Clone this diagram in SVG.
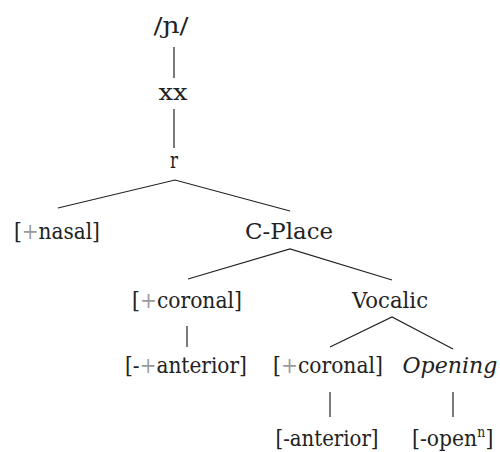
<svg xmlns="http://www.w3.org/2000/svg" width="500" height="452" viewBox="0 0 500 452">
<style>
text{font-family:"DejaVu Serif","Liberation Serif",serif;font-size:23px;fill:#222;text-anchor:middle}
.s text,text.s{text-anchor:start}
.p{fill:#9a9a9a}
.it{font-style:italic}
.e{stroke:#222;stroke-width:1.2;fill:none}
</style>
<rect width="500" height="452" fill="#fff"/>
<g id="connectors" class="e">
<line x1="174" y1="47" x2="174" y2="78"/>
<line x1="174" y1="109" x2="174" y2="148"/>
<path d="M58 208 L175 180 L290 211"/>
<path d="M188 279 L290 249 L392 280"/>
<line x1="187" y1="326" x2="187" y2="347"/>
<path d="M330 347 L392 317 L453 349"/>
<line x1="330" y1="392" x2="330" y2="417"/>
<line x1="453" y1="392" x2="453" y2="417"/>
</g>
<g id="n-phoneme"><text x="171" y="33" textLength="35" lengthAdjust="spacingAndGlyphs">/ɲ/</text></g>
<g id="n-xx"><text x="173" y="100" textLength="29" lengthAdjust="spacingAndGlyphs">xx</text></g>
<g id="n-r"><text x="174" y="168" textLength="8" lengthAdjust="spacingAndGlyphs">r</text></g>
<g id="n-nasal" class="s" transform="translate(14,239) scale(0.872,1)"><text x="0" y="0">[</text><text class="p" x="8.97" y="0">+</text><text x="28.24" y="0">nasal]</text></g>
<g id="n-cplace"><text x="289" y="239" textLength="88" lengthAdjust="spacingAndGlyphs">C-Place</text></g>
<g id="n-coronal1" class="s" transform="translate(132,308) scale(0.882,1)"><text x="0" y="0">[</text><text class="p" x="8.97" y="0">+</text><text x="28.24" y="0">coronal]</text></g>
<g id="n-vocalic"><text x="390" y="308" textLength="76" lengthAdjust="spacingAndGlyphs">Vocalic</text></g>
<g id="n-anterior1" class="s" transform="translate(125,373) scale(0.874,1)"><text x="0" y="0">[-</text><text class="p" x="16.74" y="0">+</text><text x="36.01" y="0">anterior]</text></g>
<g id="n-coronal2" class="s" transform="translate(273,373) scale(0.882,1)"><text x="0" y="0">[</text><text class="p" x="8.97" y="0">+</text><text x="28.24" y="0">coronal]</text></g>
<g id="n-opening"><text class="it" x="450" y="373" textLength="95" lengthAdjust="spacingAndGlyphs">Opening</text></g>
<g id="n-anterior2"><text x="327" y="446" textLength="103" lengthAdjust="spacingAndGlyphs">[-anterior]</text></g>
<g id="n-open" class="s" transform="translate(412,446) scale(0.883,1)"><text x="0" y="0">[-open</text><text x="73.9" y="-9" style="font-size:14px">n</text><text x="83.2" y="0">]</text></g>
</svg>
